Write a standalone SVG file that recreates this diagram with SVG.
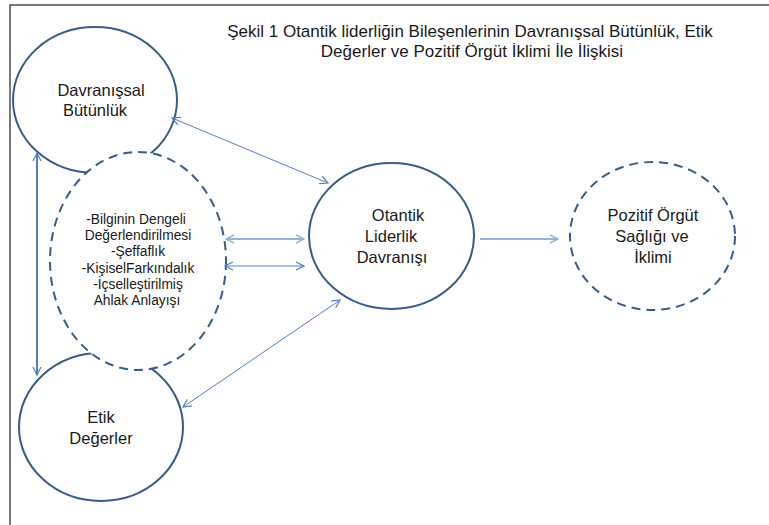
<svg xmlns="http://www.w3.org/2000/svg" width="769" height="525" viewBox="0 0 769 525">
<style>
text{font-family:"Liberation Sans",Arial,sans-serif;fill:#1a1a1a;text-anchor:middle}
.node{fill:#fff;stroke:#385d8a;stroke-width:2}
.dash{stroke-dasharray:9 6}
.t{font-size:16.5px}
.h{font-size:17px}
.s{font-size:13.8px}
.c{fill:none;stroke:#4f81bd;stroke-width:1}
.lt{stroke:#95b3d7;stroke-width:2}
.th{stroke-width:2}
</style>
<defs>
<marker id="a" viewBox="0 0 10 10" refX="9" refY="5" markerWidth="10" markerHeight="10" markerUnits="userSpaceOnUse" orient="auto-start-reverse">
<path d="M1,1 L9,5 L1,9" fill="none" stroke="#4f81bd" stroke-width="1.2"/>
</marker>
<marker id="al" viewBox="0 0 10 10" refX="9" refY="5" markerWidth="10" markerHeight="10" markerUnits="userSpaceOnUse" orient="auto-start-reverse">
<path d="M1,1 L9,5 L1,9" fill="none" stroke="#95b3d7" stroke-width="1.5"/>
</marker>
</defs>
<rect width="769" height="525" fill="#fff"/>
<path d="M10,525 V5 H769" fill="none" stroke="#4d4d4d" stroke-width="1.5"/>
<g id="title">
<text class="h" x="470" y="37">Şekil 1 Otantik liderliğin Bileşenlerinin Davranışsal Bütünlük, Etik</text>
<text class="h" x="472" y="57">Değerler ve Pozitif Örgüt İklimi İle İlişkisi</text>
</g>
<g id="davranissal">
<ellipse class="node" cx="95" cy="100" rx="82" ry="73"/>
<text class="t" x="101" y="96">Davranışsal</text>
<text class="t" x="95" y="116">Bütünlük</text>
</g>
<g id="etik">
<ellipse class="node" cx="101" cy="427" rx="82" ry="74"/>
<text class="t" x="101" y="423">Etik</text>
<text class="t" x="101" y="444">Değerler</text>
</g>
<g id="bilesenler">
<ellipse class="node dash" cx="138" cy="261" rx="88" ry="109"/>
<text class="s" x="136" y="224">-Bilginin Dengeli</text>
<text class="s" x="138" y="240">Değerlendirilmesi</text>
<text class="s" x="138" y="256">-Şeffaflık</text>
<text class="s" x="138" y="273">-KişiselFarkındalık</text>
<text class="s" x="138" y="289">-İçselleştirilmiş</text>
<text class="s" x="137" y="305">Ahlak Anlayışı</text>
</g>
<g id="otantik">
<ellipse class="node" cx="391.5" cy="236" rx="82.5" ry="73"/>
<text class="t" x="398" y="221">Otantik</text>
<text class="t" x="391" y="242">Liderlik</text>
<text class="t" x="392" y="263">Davranışı</text>
</g>
<g id="pozitif">
<ellipse class="node dash" cx="652.5" cy="236" rx="82.5" ry="74"/>
<text class="t" x="653" y="221">Pozitif Örgüt</text>
<text class="t" x="652" y="242">Sağlığı ve</text>
<text class="t" x="653" y="263">İklimi</text>
</g>
<g id="connectors">
<line class="c" x1="172" y1="118" x2="328" y2="183" marker-start="url(#a)" marker-end="url(#a)"/>
<line class="c th" x1="37" y1="153" x2="37" y2="375" marker-start="url(#a)" marker-end="url(#a)"/>
<line class="c lt" x1="226" y1="239" x2="304" y2="239" marker-start="url(#al)" marker-end="url(#al)"/>
<line class="c" x1="225" y1="266" x2="304" y2="266" marker-start="url(#a)" marker-end="url(#a)"/>
<line class="c" x1="183" y1="407" x2="340" y2="300" marker-start="url(#a)" marker-end="url(#a)"/>
<line class="c lt" x1="480" y1="239" x2="558" y2="239" marker-end="url(#al)"/>
</g>
</svg>
